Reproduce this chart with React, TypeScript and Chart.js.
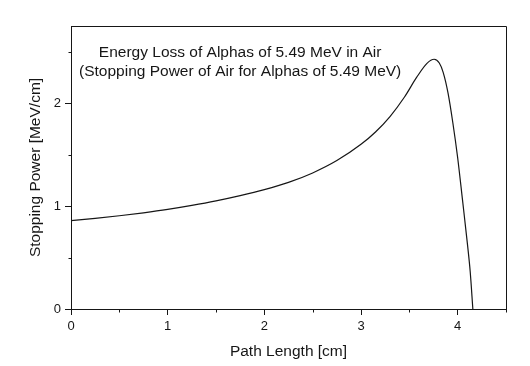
import React, { useEffect, useRef } from "react";
import { Chart, registerables } from "chart.js";

Chart.register(...registerables);

// ---- data ----
const pathLength = [
  0, 0.25, 0.5, 0.75, 1.0, 1.25, 1.5, 1.75, 2.0, 2.25, 2.5, 2.75, 3.0, 3.15,
  3.3, 3.45, 3.575, 3.68, 3.757, 3.81, 3.85, 3.9, 3.95, 4.0, 4.05, 4.1, 4.13,
  4.157,
];
const stoppingPower = [
  0.859, 0.881, 0.906, 0.935, 0.968, 1.007, 1.051, 1.102, 1.16, 1.23, 1.322,
  1.442, 1.6, 1.72, 1.87, 2.06, 2.25, 2.385, 2.427, 2.39, 2.3, 2.1, 1.81, 1.47,
  1.06, 0.64, 0.36, 0.0,
];
const xTickValues = [0, 0.5, 1, 1.5, 2, 2.5, 3, 3.5, 4, 4.5];
const yTickValues = [0, 0.5, 1, 1.5, 2, 2.5];
const titleLines = [
  "Energy Loss of Alphas of 5.49 MeV in Air",
  "(Stopping Power of Air for Alphas of 5.49 MeV)",
];
const xTitle = "Path Length [cm]";
const yTitle = "Stopping Power [MeV/cm]";

const INK = "#161616";
const FONT = '"Liberation Sans", Arial, sans-serif';

const isMajor = (v: number) => Math.abs(v - Math.round(v)) < 1e-9;

const framePlugin = {
  id: "frameAndMinor",
  afterDraw(chart: any) {
    const { ctx, chartArea } = chart;
    const { left, right, top, bottom } = chartArea;
    ctx.save();
    ctx.strokeStyle = INK;
    ctx.lineWidth = 1;
    // top and right edges of the box
    ctx.beginPath();
    ctx.moveTo(Math.round(left) + 0.5, Math.round(top) + 0.5);
    ctx.lineTo(Math.round(right) + 0.5, Math.round(top) + 0.5);
    ctx.lineTo(Math.round(right) + 0.5, Math.round(bottom) + 0.5);
    ctx.stroke();
    // minor ticks
    const xs = chart.scales.x;
    const ys = chart.scales.y;
    ctx.beginPath();
    xs.ticks.forEach((t: any) => {
      if (isMajor(t.value)) return;
      const px = Math.round(xs.getPixelForValue(t.value)) + 0.5;
      ctx.moveTo(px, Math.round(bottom) + 0.5);
      ctx.lineTo(px, Math.round(bottom) + 3.5);
    });
    ys.ticks.forEach((t: any) => {
      if (isMajor(t.value)) return;
      const py = Math.round(ys.getPixelForValue(t.value)) + 0.5;
      ctx.moveTo(Math.round(left) + 0.5, py);
      ctx.lineTo(Math.round(left) - 2.5, py);
    });
    ctx.stroke();
    // annotation text inside the plot
    ctx.fillStyle = INK;
    ctx.font = `15.5px ${FONT}`;
    ctx.textAlign = "center";
    ctx.textBaseline = "middle";
    const cx = xs.getPixelForValue(1.75);
    ctx.fillText(titleLines[0], cx, ys.getPixelForValue(2.49));
    ctx.fillText(titleLines[1], cx, ys.getPixelForValue(2.302));
    ctx.restore();
  },
};

export default function App() {
  const canvasRef = useRef<HTMLCanvasElement | null>(null);

  useEffect(() => {
    const canvas = canvasRef.current;
    if (!canvas) return;
    Chart.defaults.font.family = FONT;
    Chart.defaults.color = INK;

    const chart = new Chart(canvas, {
      type: "line",
      data: {
        datasets: [
          {
            data: pathLength.map((x, i) => ({ x, y: stoppingPower[i] })),
            borderColor: INK,
            borderWidth: 1.2,
            pointRadius: 0,
            fill: false,
            cubicInterpolationMode: "monotone",
          },
        ],
      },
      options: {
        responsive: false,
        animation: false,
        devicePixelRatio: 1,
        layout: { padding: { top: 26, right: 24, left: 0, bottom: 0 } },
        plugins: {
          legend: { display: false },
          tooltip: { enabled: false },
          title: { display: false },
        },
        scales: {
          x: {
            type: "linear",
            min: 0,
            max: 4.5,
            afterBuildTicks: (scale: any) => {
              scale.ticks = xTickValues.map((v) => ({ value: v }));
            },
            afterFit: (scale: any) => {
              scale.height = 57;
            },
            grid: {
              drawOnChartArea: false,
              drawTicks: true,
              tickLength: 6,
              tickColor: (c: any) =>
                c.tick && isMajor(c.tick.value) ? INK : "rgba(0,0,0,0)",
            },
            border: { display: true, color: INK, width: 1 },
            ticks: {
              autoSkip: false,
              maxRotation: 0,
              padding: 4,
              color: INK,
              font: { size: 13, family: FONT },
              callback: (v: any) => (isMajor(Number(v)) ? String(v) : ""),
            },
            title: {
              display: true,
              text: xTitle,
              color: INK,
              font: { size: 15.5, family: FONT },
              padding: { top: 0, bottom: 5 },
            },
          },
          y: {
            type: "linear",
            min: 0,
            max: 2.75,
            afterBuildTicks: (scale: any) => {
              scale.ticks = yTickValues.map((v) => ({ value: v }));
            },
            afterFit: (scale: any) => {
              scale.width = 71;
            },
            grid: {
              drawOnChartArea: false,
              drawTicks: true,
              tickLength: 6,
              tickColor: (c: any) =>
                c.tick && isMajor(c.tick.value) ? INK : "rgba(0,0,0,0)",
            },
            border: { display: true, color: INK, width: 1 },
            ticks: {
              autoSkip: false,
              padding: 4,
              color: INK,
              font: { size: 13, family: FONT },
              callback: (v: any) => (isMajor(Number(v)) ? String(v) : ""),
            },
            title: {
              display: true,
              text: yTitle,
              color: INK,
              font: { size: 15.5, family: FONT },
              padding: { top: 26, bottom: 0 },
            },
          },
        },
      },
      plugins: [framePlugin],
    });

    return () => chart.destroy();
  }, []);

  return (
    <div
      style={{
        position: "fixed",
        left: 0,
        top: 0,
        width: 530,
        height: 366,
        background: "#fff",
      }}
    >
      <canvas ref={canvasRef} width={530} height={366} />
    </div>
  );
}
